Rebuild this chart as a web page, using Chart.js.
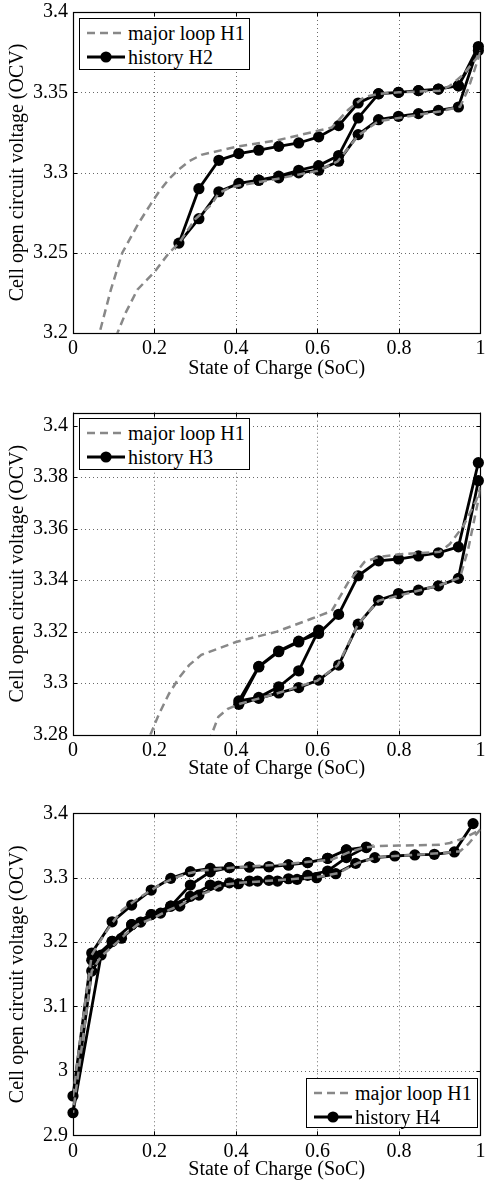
<!DOCTYPE html>
<html>
<head>
<meta charset="utf-8">
<title>OCV hysteresis histories</title>
<script src="https://cdn.jsdelivr.net/npm/chart.js@4/dist/chart.umd.min.js"></script>
<style>
  html, body { margin: 0; padding: 0; background: #fff; overflow: hidden; }
  .panel { position: absolute; left: 0; width: 486px; height: 388px; }
  .legend {
    position: absolute; background: #fff; border: 1px solid #000; box-sizing: border-box;
    font: 20px "Liberation Serif", "Times New Roman", serif; color: #000;
    padding: 2px 0 0 7px;
  }
  .legend .row { height: 24px; display: flex; align-items: center; white-space: nowrap; }
  .legend svg { flex: none; margin-right: 3px; }
</style>
</head>
<body>
<div class="panel" style="top:0"><canvas id="c1"></canvas>
  <div class="legend" style="left:79px;top:18px;width:171px;height:52px">
    <div class="row"><svg width="38" height="12"><line x1="0" y1="6" x2="38" y2="6" stroke="#888" stroke-width="2.5" stroke-dasharray="8 5"/></svg>major loop H1</div>
    <div class="row"><svg width="38" height="12"><line x1="0" y1="6" x2="38" y2="6" stroke="#000" stroke-width="2.8"/><circle cx="19" cy="6" r="5.6"/></svg>history H2</div>
  </div>
</div>
<div class="panel" style="top:400px"><canvas id="c2"></canvas>
  <div class="legend" style="left:79px;top:18px;width:171px;height:52px">
    <div class="row"><svg width="38" height="12"><line x1="0" y1="6" x2="38" y2="6" stroke="#888" stroke-width="2.5" stroke-dasharray="8 5"/></svg>major loop H1</div>
    <div class="row"><svg width="38" height="12"><line x1="0" y1="6" x2="38" y2="6" stroke="#000" stroke-width="2.8"/><circle cx="19" cy="6" r="5.6"/></svg>history H3</div>
  </div>
</div>
<div class="panel" style="top:800px"><canvas id="c3"></canvas>
  <div class="legend" style="left:306px;top:278px;width:172px;height:50px">
    <div class="row"><svg width="38" height="12"><line x1="0" y1="6" x2="38" y2="6" stroke="#888" stroke-width="2.5" stroke-dasharray="8 5"/></svg>major loop H1</div>
    <div class="row"><svg width="38" height="12"><line x1="0" y1="6" x2="38" y2="6" stroke="#000" stroke-width="2.8"/><circle cx="19" cy="6" r="5.6"/></svg>history H4</div>
  </div>
</div>
<script>
// Major hysteresis loop H1 (charge branch, SoC rising)
const majorChargeSoc = [0, 0.02, 0.046, 0.065, 0.093, 0.121, 0.16, 0.19, 0.211, 0.236, 0.26, 0.285, 0.315, 0.4, 0.5, 0.585, 0.635, 0.675, 0.715, 0.75, 0.8, 0.9, 0.925, 0.958, 0.99, 1.0];
const majorChargeOcv = [2.96, 3.06, 3.18, 3.2, 3.227, 3.25, 3.268, 3.28, 3.288, 3.296, 3.302, 3.307, 3.311, 3.316, 3.32, 3.325, 3.328, 3.339, 3.347, 3.349, 3.35, 3.351, 3.354, 3.361, 3.371, 3.376];
// Major loop H1 (discharge branch, SoC falling)
const majorDischargeSoc = [1.0, 0.97, 0.95, 0.9, 0.8, 0.75, 0.7, 0.65, 0.6, 0.5, 0.41, 0.38, 0.357, 0.34, 0.3, 0.26, 0.236, 0.2, 0.158, 0.13, 0.109, 0.069, 0.046, 0.02, 0];
const majorDischargeOcv = [3.375, 3.352, 3.341, 3.338, 3.334, 3.332, 3.323, 3.307, 3.301, 3.296, 3.292, 3.29, 3.287, 3.28, 3.271, 3.256, 3.25, 3.238, 3.227, 3.213, 3.2, 3.178, 3.155, 3.03, 2.935];

// History H2 (points in measurement order)
const h2Soc = [0.456, 0.505, 0.554, 0.603, 0.652, 0.70, 0.75, 0.799, 0.848, 0.897, 0.946, 0.995,
  0.946, 0.897, 0.848, 0.799, 0.75, 0.70, 0.652, 0.603, 0.554, 0.505, 0.456, 0.407, 0.358, 0.309, 0.26,
  0.309, 0.358, 0.407, 0.456, 0.505, 0.554, 0.603, 0.652, 0.70, 0.75, 0.799, 0.848, 0.897, 0.946, 0.995];
const h2Ocv = [3.2952, 3.2977, 3.3014, 3.3043, 3.3106, 3.334, 3.349, 3.3499, 3.351, 3.352, 3.354, 3.3785,
  3.3408, 3.3387, 3.3367, 3.335, 3.3329, 3.3236, 3.307, 3.3014, 3.2998, 3.2967, 3.2952, 3.2932, 3.288, 3.2712, 3.256,
  3.2899, 3.3076, 3.3118, 3.3139, 3.3163, 3.3184, 3.3222, 3.3292, 3.3433, 3.3491, 3.3499, 3.351, 3.352, 3.354, 3.376];

// History H3
const h3Soc = [0.995, 0.946, 0.897, 0.848, 0.799, 0.75, 0.70, 0.652, 0.603, 0.554, 0.505, 0.456, 0.407,
  0.456, 0.505, 0.554, 0.603, 0.554, 0.505, 0.456, 0.407,
  0.456, 0.505, 0.554, 0.603, 0.652, 0.70, 0.75, 0.799, 0.848, 0.897, 0.946, 0.995];
const h3Ocv = [3.3786, 3.3407, 3.3378, 3.3361, 3.3348, 3.3322, 3.3229, 3.307, 3.3012, 3.2983, 3.2962, 3.2941, 3.2918,
  3.3063, 3.3122, 3.316, 3.3206, 3.3048, 3.2986, 3.2945, 3.2931,
  3.3065, 3.3125, 3.3163, 3.3193, 3.3267, 3.3417, 3.3475, 3.3482, 3.3494, 3.3506, 3.3529, 3.3856];

// History H4
const h4Soc = [0.982, 0.936, 0.887, 0.839, 0.79, 0.741, 0.694, 0.645, 0.598, 0.55, 0.502, 0.453, 0.406, 0.357, 0.309, 0.262, 0.215, 0.166, 0.119, 0.069, 0.0,
  0.046, 0.096, 0.144, 0.192, 0.24, 0.288, 0.337, 0.384, 0.433, 0.481, 0.529, 0.576, 0.625, 0.671, 0.72,
  0.671, 0.625, 0.576, 0.529, 0.481, 0.433, 0.384, 0.337, 0.288, 0.24, 0.192, 0.144, 0.096, 0.046, 0.0,
  0.046, 0.096, 0.144, 0.192, 0.24, 0.288, 0.337, 0.384, 0.433, 0.481, 0.529, 0.576, 0.625, 0.671, 0.72];
const h4Ocv = [3.384, 3.340, 3.3363, 3.3353, 3.3337, 3.3312, 3.3223, 3.3062, 3.300, 3.2974, 3.2948, 3.2948, 3.2906, 3.287, 3.273, 3.2558, 3.245, 3.231, 3.206, 3.180, 2.935,
  3.155, 3.201, 3.227, 3.2427, 3.2558, 3.2886, 3.309, 3.3156, 3.3166, 3.317, 3.3198, 3.3234, 3.3301, 3.3431, 3.3477,
  3.3312, 3.3104, 3.3036, 3.2984, 3.2958, 3.2948, 3.292, 3.2886, 3.271, 3.2558, 3.2427, 3.227, 3.201, 3.172, 2.961,
  3.183, 3.2315, 3.2575, 3.2808, 3.299, 3.3093, 3.3145, 3.3156, 3.3166, 3.317, 3.3198, 3.3234, 3.3301, 3.3431, 3.3467];

// Tick values
const xTicks = [0, 0.2, 0.4, 0.6, 0.8, 1];
const yTicks1 = [3.2, 3.25, 3.3, 3.35, 3.4];
const yTicks2 = [3.28, 3.3, 3.32, 3.34, 3.36, 3.38, 3.4];
const yTicks3 = [2.9, 3.0, 3.1, 3.2, 3.3, 3.4];

const FONT = { family: '"Liberation Serif", "Times New Roman", serif', size: 20 };
const GREY = '#888';

function toPoints(xs, ys) {
    return xs.map((x, i) => ({ x: x, y: ys[i] }));
}

function fmt(v) {
    return String(parseFloat(Number(v).toFixed(3)));
}

// Dotted grid, axes box and inward tick marks (MATLAB look)
const framePlugin = {
    id: 'frame',
    beforeDatasetsDraw(chart) {
        const { ctx, chartArea: a, scales: { x, y } } = chart;
        ctx.save();
        ctx.lineWidth = 1;
        ctx.strokeStyle = '#6a6a6a';
        ctx.setLineDash([1, 3]);
        ctx.beginPath();
        x.ticks.forEach(t => {
            const px = Math.round(x.getPixelForValue(t.value)) + 0.5;
            ctx.moveTo(px, a.top);
            ctx.lineTo(px, a.bottom);
        });
        y.ticks.forEach(t => {
            const py = Math.round(y.getPixelForValue(t.value)) + 0.5;
            ctx.moveTo(a.left, py);
            ctx.lineTo(a.right, py);
        });
        ctx.stroke();

        ctx.setLineDash([]);
        ctx.strokeStyle = '#000';
        ctx.lineWidth = 1.2;
        ctx.strokeRect(Math.round(a.left) + 0.5, Math.round(a.top) + 0.5,
            Math.round(a.right - a.left), Math.round(a.bottom - a.top));
        ctx.lineWidth = 1;
        ctx.beginPath();
        const tl = 4;
        x.ticks.forEach(t => {
            const px = Math.round(x.getPixelForValue(t.value)) + 0.5;
            ctx.moveTo(px, a.bottom); ctx.lineTo(px, a.bottom - tl);
            ctx.moveTo(px, a.top); ctx.lineTo(px, a.top + tl);
        });
        y.ticks.forEach(t => {
            const py = Math.round(y.getPixelForValue(t.value)) + 0.5;
            ctx.moveTo(a.left, py); ctx.lineTo(a.left + tl, py);
            ctx.moveTo(a.right, py); ctx.lineTo(a.right - tl, py);
        });
        ctx.stroke();
        ctx.restore();
    }
};

function makeChart(id, soc, ocv, yMin, yMax, yTicks, padTop, xAxisHeight, titlePad) {
    const ctx = document.getElementById(id).getContext('2d');
    return new Chart(ctx, {
        type: 'scatter',
        data: {
            datasets: [
                {
                    label: 'major loop H1',
                    data: toPoints(majorChargeSoc, majorChargeOcv),
                    showLine: true, borderColor: GREY, borderWidth: 2.5, borderDash: [8, 5],
                    pointRadius: 0
                },
                {
                    label: 'major loop H1 (discharge)',
                    data: toPoints(majorDischargeSoc, majorDischargeOcv),
                    showLine: true, borderColor: GREY, borderWidth: 2.5, borderDash: [8, 5],
                    pointRadius: 0
                },
                {
                    label: 'history',
                    data: toPoints(soc, ocv),
                    showLine: true, borderColor: '#000', borderWidth: 2.8,
                    pointRadius: 5.6, pointBackgroundColor: '#000', pointBorderColor: '#000',
                    pointBorderWidth: 0, clip: false
                }
            ]
        },
        options: {
            responsive: true,
            maintainAspectRatio: false,
            animation: false,
            events: [],
            layout: { padding: { top: padTop, right: 2, left: 0, bottom: 0 } },
            plugins: { legend: { display: false }, tooltip: { enabled: false } },
            scales: {
                x: {
                    type: 'linear', min: 0, max: 1,
                    grid: { display: false, drawTicks: false },
                    border: { display: false },
                    afterBuildTicks: axis => { axis.ticks = xTicks.map(v => ({ value: v })); },
                    afterFit: axis => { axis.height = xAxisHeight; axis.paddingLeft = 0; axis.paddingRight = 0; },
                    ticks: { autoSkip: false, maxRotation: 0, padding: 4, color: '#000', font: FONT, callback: fmt },
                    title: { display: true, text: 'State of Charge (SoC)', color: '#000', font: FONT,
                             padding: { top: 0, bottom: titlePad } }
                },
                y: {
                    type: 'linear', min: yMin, max: yMax,
                    grid: { display: false, drawTicks: false },
                    border: { display: false },
                    afterBuildTicks: axis => { axis.ticks = yTicks.map(v => ({ value: v })); },
                    afterFit: axis => { axis.width = 73; axis.paddingTop = 0; axis.paddingBottom = 0; },
                    ticks: { autoSkip: false, padding: 5, color: '#000', font: FONT, callback: fmt },
                    title: { display: true, text: 'Cell open circuit voltage (OCV)', color: '#000', font: FONT,
                             padding: { top: 6, bottom: 0 } }
                }
            }
        },
        plugins: [framePlugin]
    });
}

makeChart('c1', h2Soc, h2Ocv, 3.2, 3.4, yTicks1, 12, 55, 7.7);
makeChart('c2', h3Soc, h3Ocv, 3.28, 3.405, yTicks2, 12.7, 53.3, 7.5);
makeChart('c3', h4Soc, h4Ocv, 2.9, 3.4, yTicks3, 13.3, 52.7, 6);
</script>
</body>
</html>
